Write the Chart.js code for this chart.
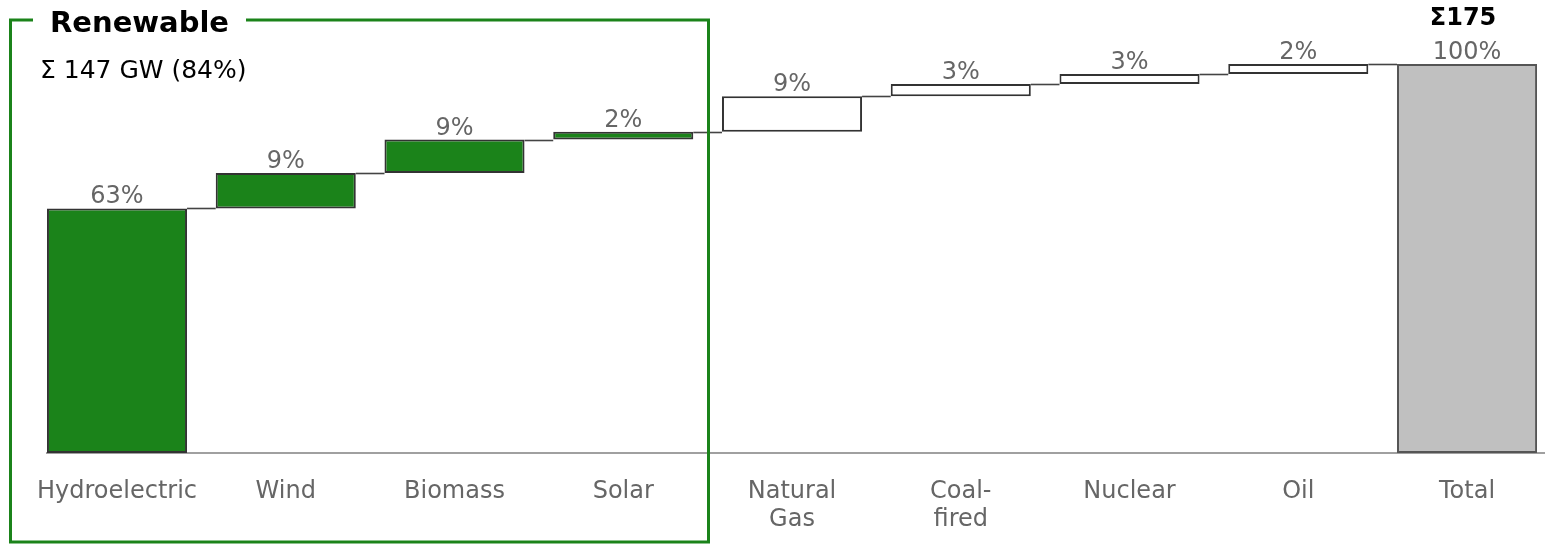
<!DOCTYPE html>
<html><head><meta charset="utf-8">
<script src="https://cdn.jsdelivr.net/npm/chart.js@4"></script>
<style>html,body{margin:0;padding:0;background:#fff}#wrap{width:1545px;height:544px;position:relative}</style>
</head><body><div id="wrap"><canvas id="c"></canvas></div>
<script>
const categories = [['Hydroelectric'],['Wind'],['Biomass'],['Solar'],['Natural','Gas'],['Coal-','fired'],['Nuclear'],['Oil'],['Total']];
const valuesGW = [110, 16, 15, 3.5, 16, 5.5, 4.5, 4.5];
const totalGW = 175;
const shareLabels = ['63%','9%','9%','2%','9%','3%','3%','2%','100%'];
const renewableCount = 4;
const renewableTitle = 'Renewable';
const renewableSumLabel = 'Σ 147 GW (84%)';
const totalLabel = 'Σ175';

const FONT = "'DejaVu Sans', Verdana, sans-serif";
const GREEN = '#1b831a';

// build floating bars
const barData = [];
const cumTops = [];
let cum = 0;
valuesGW.forEach((v, i) => {
  barData.push({x: i, y: [cum, cum + v]});
  cum += v;
  cumTops.push(cum);
});
barData.push({x: valuesGW.length, y: [0, totalGW]});
cumTops.push(totalGW);

const fills = barData.map((d, i) => i < renewableCount ? GREEN : (i === barData.length - 1 ? '#c0c0c0' : '#ffffff'));
const borders = barData.map((d, i) => i === barData.length - 1 ? '#555555' : '#333333');

const overlay = {
  id: 'overlay',
  afterDatasetsDraw(chart) {
    const ctx = chart.ctx;
    const meta = chart.getDatasetMeta(0);
    const ys = chart.scales.y;
    ctx.save();
    // connectors
    ctx.strokeStyle = '#444';
    ctx.lineWidth = 1.6;
    for (let i = 0; i < meta.data.length - 1; i++) {
      const a = meta.data[i], b = meta.data[i + 1];
      const y = Math.round(ys.getPixelForValue(cumTops[i])) + 0.5;
      ctx.beginPath();
      ctx.moveTo(a.x + a.width / 2, y);
      ctx.lineTo(b.x - b.width / 2, y);
      ctx.stroke();
    }
    // share labels
    ctx.fillStyle = '#666';
    ctx.font = '24px ' + FONT;
    ctx.textAlign = 'center';
    ctx.textBaseline = 'alphabetic';
    meta.data.forEach((bar, i) => {
      const top = ys.getPixelForValue(cumTops[i]);
      ctx.fillText(shareLabels[i], bar.x, top - 5);
    });
    // total sum label
    const last = meta.data[meta.data.length - 1];
    ctx.fillStyle = '#000';
    ctx.font = 'bold 24px ' + FONT;
    ctx.fillText(totalLabel, last.x - 4, 25);
    ctx.restore();
  },
  afterDraw(chart) {
    const ctx = chart.ctx;
    ctx.save();
    ctx.strokeStyle = GREEN;
    ctx.lineWidth = 3;
    ctx.beginPath();
    ctx.moveTo(33, 20);
    ctx.lineTo(10.5, 20);
    ctx.lineTo(10.5, 542);
    ctx.lineTo(708.5, 542);
    ctx.lineTo(708.5, 20);
    ctx.lineTo(246, 20);
    ctx.stroke();
    ctx.fillStyle = '#000';
    ctx.textAlign = 'left';
    ctx.textBaseline = 'alphabetic';
    ctx.font = 'bold 29px ' + FONT;
    ctx.fillText(renewableTitle, 50, 32);
    ctx.font = '25px ' + FONT;
    ctx.fillText(renewableSumLabel, 40, 78);
    ctx.restore();
  }
};

new Chart(document.getElementById('c'), {
  type: 'bar',
  data: {
    datasets: [{
      data: barData,
      backgroundColor: fills,
      borderColor: borders,
      borderWidth: 2,
      borderSkipped: false,
      barPercentage: 0.83,
      categoryPercentage: 1
    }]
  },
  options: {
    responsive: true,
    maintainAspectRatio: false,
    animation: false,
    layout: {padding: {top: 64, left: 47, right: 0, bottom: 11}},
    plugins: {legend: {display: false}, tooltip: {enabled: false}, title: {display: false}},
    scales: {
      x: {
        type: 'linear',
        min: -0.4148,
        max: 8.462,
        offset: false,
        grid: {display: false, drawTicks: false, offset: false},
        border: {display: true, color: '#a0a0a0', width: 2},
        afterBuildTicks: axis => { axis.ticks = categories.map((_, i) => ({value: i})); },
        afterFit: axis => { axis.height = 80; },
        ticks: {
          autoSkip: false,
          maxRotation: 0,
          minRotation: 0,
          padding: 24,
          color: '#666',
          font: {family: FONT, size: 24, lineHeight: 1.2},
          callback: (v) => categories[v] || ''
        }
      },
      y: {display: false, min: 0, max: totalGW}
    }
  },
  plugins: [overlay]
});
</script>
</body></html>
